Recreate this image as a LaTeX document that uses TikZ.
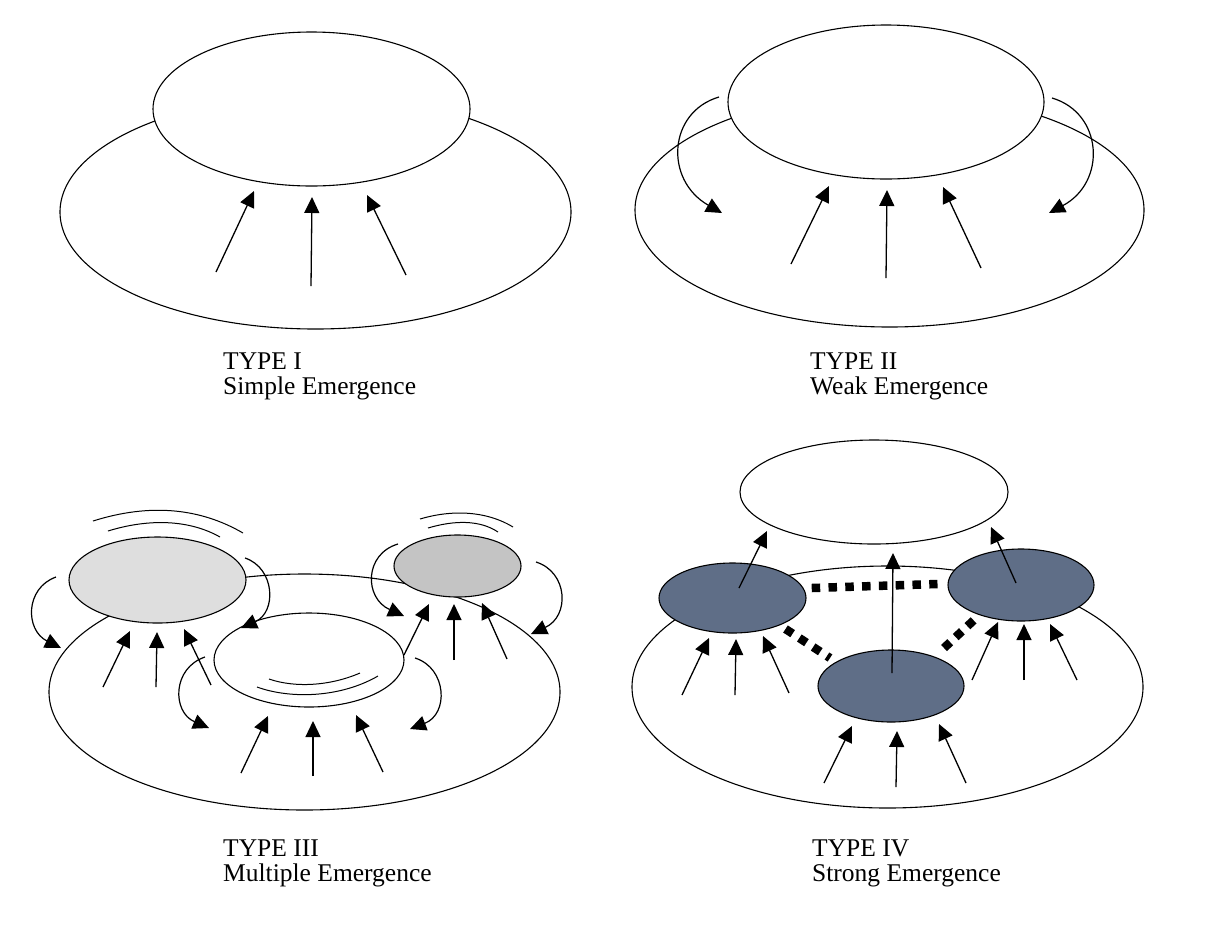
\documentclass[tikz,border=0pt]{standalone}
\usepackage{fontspec}
\setmainfont{Liberation Serif}
\usetikzlibrary{arrows.meta}
\definecolor{lgrey}{RGB}{222,222,222}
\definecolor{mgrey}{RGB}{196,196,196}
\definecolor{slate}{RGB}{95,110,135}
\tikzset{
  outline/.style={line width=1.1pt, draw=black},
  arr/.style={line width=1.3pt, -{Triangle[length=16pt,width=15pt]}},
  carr/.style={line width=1.2pt, -{Triangle[length=16pt,width=15pt]}},
  motion/.style={line width=1pt},
  dots/.style={line width=8.5pt, line cap=butt},
  lbl/.style={anchor=base west, inner sep=0pt, font=\fontsize{25.5}{24}\selectfont}
}
\begin{document}
\begin{tikzpicture}[x=1pt,y=-1pt]
\useasboundingbox (0,0) rectangle (1228,938);

% ---------------- TYPE I ----------------
\draw[outline] (315.5,212) ellipse [x radius=255.5, y radius=117];
\draw[outline, fill=white] (311.5,109) ellipse [x radius=158.5, y radius=77];
\coordinate (a1s) at (216,272); \coordinate (a1t) at (254,191);
\coordinate (a2s) at (311,286); \coordinate (a2t) at (312,197);
\coordinate (a3s) at (406,275); \coordinate (a3t) at (367,195);
\draw[arr] (a1s) -- (a1t);
\draw[arr] (a2s) -- (a2t);
\draw[arr] (a3s) -- (a3t);
\node[lbl] (t1a) at (223,369) {TYPE I};
\node[lbl] (t1b) at (223,394) {Simple Emergence};

% ---------------- TYPE II ----------------
\draw[outline] (889.5,210) ellipse [x radius=254.5, y radius=117];
\draw[outline, fill=white] (886,102) ellipse [x radius=158, y radius=77];
\coordinate (b1s) at (791,264); \coordinate (b1t) at (829,186);
\coordinate (b2s) at (886,278); \coordinate (b2t) at (887,190);
\coordinate (b3s) at (981,268); \coordinate (b3t) at (943,187);
\draw[arr] (b1s) -- (b1t);
\draw[arr] (b2s) -- (b2t);
\draw[arr] (b3s) -- (b3t);
\coordinate (bl1) at (719,97); \coordinate (bl2) at (722,213);
\coordinate (br1) at (1052,98); \coordinate (br2) at (1049,213);
\draw[carr] (bl1) .. controls (668,112) and (664,180) .. (bl2);
\draw[carr] (br1) .. controls (1103,113) and (1107,182) .. (br2);
\node[lbl] (t2a) at (810,369) {TYPE II};
\node[lbl] (t2b) at (810,394) {Weak Emergence};

% ---------------- TYPE III ----------------
\draw[outline] (304.5,692) ellipse [x radius=255.5, y radius=118];
\draw[outline, fill=lgrey] (157.5,580) ellipse [x radius=88.5, y radius=43];
\draw[outline, fill=mgrey] (457.5,566) ellipse [x radius=63.5, y radius=31];
\draw[outline, fill=white] (309,660) ellipse [x radius=95, y radius=47];
% motion lines
\draw[motion] (93,521) .. controls (150,503) and (200,508) .. (243,533);
\draw[motion] (108,531) .. controls (150,518) and (190,520) .. (220,537);
\draw[motion] (420,519) .. controls (450,510) and (485,510) .. (513,527);
\draw[motion] (428,528) .. controls (455,520) and (480,520) .. (498,532);
\draw[motion] (269,679) .. controls (295,688) and (330,686) .. (360,673);
\draw[motion] (257,687) .. controls (290,699) and (340,698) .. (378,676);
% curved arrows
\draw[carr] (56,577) .. controls (25,588) and (25,630) .. (61,648);
\draw[carr] (245,558) .. controls (275,568) and (277,612) .. (241,628);
\draw[carr] (205,657) .. controls (172,668) and (172,712) .. (209,728);
\draw[carr] (415,658) .. controls (447,668) and (449,714) .. (410,729);
\draw[carr] (398,544) .. controls (364,554) and (364,598) .. (404,616);
\draw[carr] (536,562) .. controls (568,572) and (570,616) .. (531,634);
% straight arrows
\draw[arr] (103,687) -- (130,631);
\draw[arr] (156,687) -- (157,632);
\draw[arr] (211,685) -- (184,629);
\draw[arr] (241,773) -- (268,716);
\draw[arr] (313,776) -- (313,721);
\draw[arr] (383,772) -- (356,715);
\draw[arr] (404,655) -- (429,604);
\draw[arr] (454,660) -- (454,604);
\draw[arr] (507,659) -- (482,603);
\node[lbl] (t3a) at (223,856) {TYPE III};
\node[lbl] (t3b) at (223,881) {Multiple Emergence};

% ---------------- TYPE IV ----------------
\draw[outline] (887.5,687) ellipse [x radius=255.5, y radius=121];
\draw[outline, fill=white] (874,492) ellipse [x radius=134, y radius=52];
\draw[outline, fill=slate] (732.5,598) ellipse [x radius=73.5, y radius=35];
\draw[outline, fill=slate] (1021,585) ellipse [x radius=73, y radius=36];
\draw[outline, fill=slate] (891,686) ellipse [x radius=73, y radius=36];
% dotted links
\draw[dots, dash pattern=on 8.5pt off 8.3pt] (811.7,588) -- (937.5,584);
\draw[dots, dash pattern=on 8.5pt off 8pt] (785.5,629) -- (830,658);
\draw[dots, dash pattern=on 8.5pt off 7.5pt] (944,648) -- (974,620);
% arrows to top
\draw[arr] (739,588) -- (767,531);
\draw[arr] (892,673) -- (893,553);
\draw[arr] (1016,583) -- (991,527);
% arrows from below
\draw[arr] (682,695) -- (709,638);
\draw[arr] (735,695) -- (736,639);
\draw[arr] (789,693) -- (763,636);
\draw[arr] (824,783) -- (852,726);
\draw[arr] (896,787) -- (897,731);
\draw[arr] (966,783) -- (939,724);
\draw[arr] (972,680) -- (998,622);
\draw[arr] (1024,680) -- (1024,624);
\draw[arr] (1077,680) -- (1050,624);
\node[lbl] (t4a) at (812,856) {TYPE IV};
\node[lbl] (t4b) at (812,881) {Strong Emergence};
\end{tikzpicture}
\end{document}
